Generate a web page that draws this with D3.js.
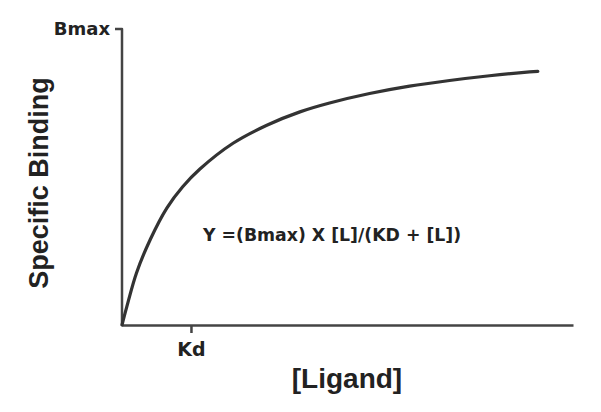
<!DOCTYPE html>
<html lang="en">
<head>
    <meta charset="UTF-8">
    <title>Specific Binding</title>
    <script src="https://d3js.org/d3.v7.min.js"></script>
    <style>
        body, html {
            margin: 0;
            padding: 0;
            background-color: white;
        }

        .axis path, .axis line {
            stroke: #444;
            stroke-width: 2.5px;
            stroke-linejoin: round;
            fill: none;
        }

        .axis text {
            font-family: 'DejaVu Sans', Verdana, sans-serif;
            font-weight: bold;
            fill: #222;
        }

        .big-label {
            font-family: 'Liberation Sans', Arial, sans-serif;
            font-weight: bold;
            fill: #222;
        }
    </style>
</head>
<body>
    <script>
        'use strict'

        // points ([Ligand] in Kd units, binding as fraction of Bmax)
        const ligand = [0, 0.07, 0.21, 0.41, 0.65, 0.88, 1.13, 1.61, 2.10, 2.58, 3.01, 3.59, 4.17, 4.75, 5.33, 5.91, 6.03]
        const binding = [0, 0.062, 0.176, 0.289, 0.395, 0.467, 0.527, 0.614, 0.675, 0.72, 0.75, 0.782, 0.807, 0.826, 0.842, 0.855, 0.857]

        const xTicks = [1]
        const xTickLabels = ['Kd']
        const yTicks = [1]
        const yTickLabels = ['Bmax']
        const xMax = 6.54

        const w = 601
        const h = 412
        const margin = {top: 29, right: 28, bottom: 87, left: 122}

        const svg = d3.select('body')
            .append('svg')
            .attr('width', w)
            .attr('height', h)

        const x = d3.scaleLinear()
            .domain([0, xMax])
            .range([margin.left, w - margin.right])

        const y = d3.scaleLinear()
            .domain([0, 1])
            .range([h - margin.bottom, margin.top])

        const xAxis = d3.axisBottom(x)
            .tickValues(xTicks)
            .tickFormat((d, i) => xTickLabels[i])
            .tickSize(8)
            .tickSizeOuter(0)

        const yAxis = d3.axisLeft(y)
            .tickValues(yTicks)
            .tickFormat((d, i) => yTickLabels[i])
            .tickSize(7)
            .tickSizeOuter(0)

        const gx = svg.append('g')
            .attr('class', 'axis')
            .attr('transform', `translate(0, ${h - margin.bottom})`)
            .call(xAxis)

        gx.selectAll('text')
            .attr('y', 18)
            .style('font-size', '19px')

        const gy = svg.append('g')
            .attr('class', 'axis')
            .attr('transform', `translate(${margin.left}, 0)`)
            .call(yAxis)

        // join the Bmax tick to the axis line so the corner is rounded
        gy.select('.domain')
            .attr('d', `M-7,${y(yTicks[0])}H0V${y(0)}`)
        gy.selectAll('.tick line').remove()

        gy.selectAll('text')
            .attr('x', -12)
            .attr('dy', '0.3em')
            .style('font-size', '18px')

        // curve
        const line = d3.line()
            .x((d, i) => x(ligand[i]))
            .y(d => y(d))
            .curve(d3.curveCatmullRom.alpha(0.5))

        svg.append('path')
            .datum(binding)
            .attr('fill', 'none')
            .attr('stroke', '#333')
            .attr('stroke-width', 3.2)
            .attr('stroke-linecap', 'round')
            .attr('d', line)

        // equation
        svg.append('text')
            .text('Y =(Bmax) X [L]/(KD + [L])')
            .attr('x', 203)
            .attr('y', 241)
            .style('font-family', "'DejaVu Sans', Verdana, sans-serif")
            .style('font-weight', 'bold')
            .style('font-size', '17.3px')
            .style('fill', '#222')

        // axis titles
        svg.append('text')
            .attr('class', 'big-label')
            .text('[Ligand]')
            .attr('x', 347)
            .attr('y', 388)
            .attr('text-anchor', 'middle')
            .style('font-size', '28px')

        svg.append('text')
            .attr('class', 'big-label')
            .text('Specific Binding')
            .attr('transform', `translate(48, 183) rotate(-90)`)
            .attr('text-anchor', 'middle')
            .style('font-size', '27px')
    </script>
</body>
</html>
